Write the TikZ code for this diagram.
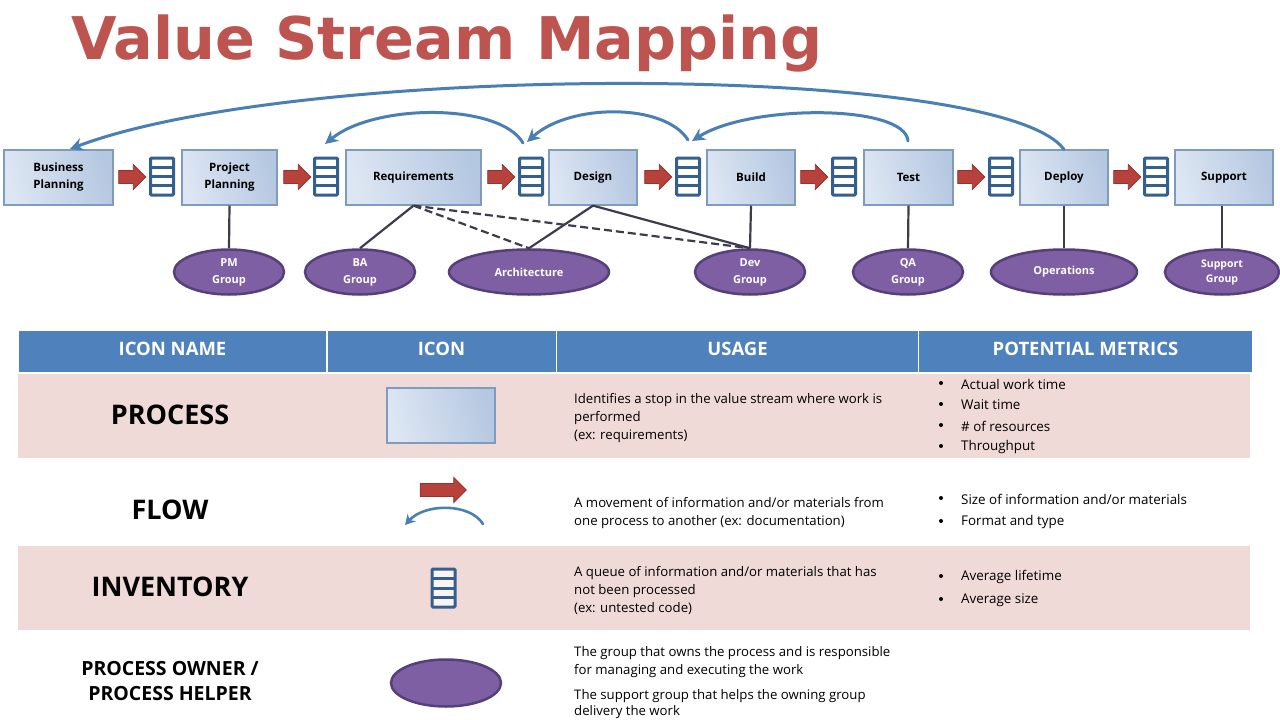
\documentclass[tikz,border=0pt]{standalone}
\usepackage{fontspec}
\setmainfont{Open Sans}
\newfontfamily\titlefont{DejaVu Sans}
\usetikzlibrary{arrows.meta,calc,shapes.geometric,shapes.arrows}
\definecolor{titlered}{HTML}{BE5450}
\definecolor{boxlight}{HTML}{DDE6F3}
\definecolor{boxdark}{HTML}{B5C8E1}
\definecolor{boxline}{HTML}{7F9CBF}
\definecolor{queueblue}{HTML}{34608F}
\definecolor{flowblue}{HTML}{4A7FB5}
\definecolor{arrowred}{HTML}{B8413B}
\definecolor{groupfill}{HTML}{7F5FA3}
\definecolor{groupline}{HTML}{54407A}
\definecolor{linkgrey}{HTML}{3C3C4C}
\definecolor{headblue}{HTML}{4F81BD}
\definecolor{rowpink}{HTML}{EFDAD7}
\tikzset{
  proc/.style={draw=boxline, line width=1.2pt, left color=boxlight, right color=boxdark, shading angle=105,
    minimum height=55pt, inner sep=0pt, align=center, font=\fontsize{11.5}{17}\selectfont\bfseries},
  queue/.style={draw=queueblue, line width=3pt, fill=white, fill opacity=.75, text opacity=1, rounded corners=1pt,
    minimum width=23pt, minimum height=37pt, inner sep=0pt,
    path picture={\foreach \k in {.25,.5,.75}
      \draw[queueblue, line width=3pt] ($(path picture bounding box.north west)!\k!(path picture bounding box.south west)$)
        -- ($(path picture bounding box.north east)!\k!(path picture bounding box.south east)$);}},
  redarrow/.style={single arrow, draw=arrowred!80!black, fill=arrowred, line width=.8pt, inner xsep=0pt, inner ysep=6pt,
    single arrow head extend=6pt, single arrow head indent=0pt, minimum height=27pt, minimum width=24pt},
  group/.style={ellipse, draw=groupline, fill=groupfill, line width=2.5pt, minimum height=45pt, minimum width=110pt,
    inner sep=0pt, align=center, text=white, font=\fontsize{11}{17}\selectfont\bfseries},
  flow/.style={draw=flowblue, line width=3pt, line cap=round, -{Stealth[length=13pt,width=13pt]}},
  link/.style={draw=linkgrey, line width=2.2pt},
  linkdash/.style={link, dashed, dash pattern=on 8pt off 4pt},
  headcell/.style={fill=headblue, minimum height=41pt, inner sep=0pt, text=white, text height=13pt, text depth=5pt,
    font=\fontsize{18.5}{22}\selectfont\bfseries},
  rowname/.style={font=\fontsize{27}{30}\selectfont\bfseries, align=center},
  usage/.style={anchor=north west, inner sep=0pt, align=left, font=\fontsize{13.2}{18}\selectfont},
  metric/.style={anchor=west, inner sep=0pt, font=\fontsize{13.4}{15}\selectfont},
  dot/.style={circle, fill=black, inner sep=0pt, minimum size=4pt}
}
\begin{document}
\begin{tikzpicture}[x=1pt,y=-1pt]
  \useasboundingbox (0,0) rectangle (1280,720);
  \fill[white] (0,0) rectangle (1280,720);

  \node[anchor=west, inner sep=0pt, text=titlered, font=\titlefont\fontsize{58.8}{62}\selectfont\bfseries] (title) at (71,44) {Value Stream Mapping};

  % process row
  \node[proc, minimum width=109pt] (p1) at (58.5,177.5) {Business\\Planning};
  \node[proc, minimum width=95pt] (p2) at (229.5,177.5) {Project\\Planning};
  \node[proc, minimum width=135pt] (p3) at (413.5,177.5) {Requirements};
  \node[proc, minimum width=88pt] (p4) at (593,177.5) {Design};
  \node[proc, minimum width=88pt] (p5) at (751,177.5) {Build};
  \node[proc, minimum width=89pt] (p6) at (908.5,177.5) {Test};
  \node[proc, minimum width=88pt] (p7) at (1064,177.5) {Deploy};
  \node[proc, minimum width=98pt] (p8) at (1224,177.5) {Support};

  \node[queue] (q1) at (162,176.5) {};
  \node[queue] (q2) at (326,176.5) {};
  \node[queue] (q3) at (531,176.5) {};
  \node[queue] (q4) at (688,176.5) {};
  \node[queue] (q5) at (844,176.5) {};
  \node[queue] (q6) at (1001,176.5) {};
  \node[queue] (q7) at (1156,176.5) {};

  \node[redarrow] (a1) at (129,177) {};
  \node[redarrow] (a2) at (294,177) {};
  \node[redarrow] (a3) at (498,177) {};
  \node[redarrow] (a4) at (655,177) {};
  \node[redarrow] (a5) at (811,177) {};
  \node[redarrow] (a6) at (968,177) {};
  \node[redarrow] (a7) at (1124,177) {};

  \node[group] (g1) at (229,272) {PM\\Group};
  \node[group] (g2) at (360,272) {BA\\Group};
  \node[group, minimum width=160pt] (g3) at (529,272) {Architecture};
  \node[group] (g4) at (750,272) {Dev\\Group};
  \node[group] (g5) at (908,272) {QA\\Group};
  \node[group, minimum width=146pt] (g6) at (1064,272) {Operations};
  \node[group, minimum width=114pt, font=\fontsize{10.5}{15}\selectfont\bfseries] (g7) at (1222,272) {Support\\Group};

  \foreach \from/\to in {p2/g1, p3/g2, p4/g3, p4/g4, p5/g4, p6/g5, p7/g6}
    \draw[link] (\from.south) -- (\to.north);
  \draw[link] (p8.south -| g7.north) -- (g7.north);
  \foreach \from/\to in {p3/g3, p3/g4}
    \draw[linkdash] (\from.south) -- (\to.north);

  % feedback arcs
  \coordinate (c1) at (70,149);
  \coordinate (c2) at (325,144);
  \coordinate (c3) at (527,142);
  \coordinate (c4) at (692,141);
  \coordinate (s3) at (523,143);
  \coordinate (s4) at (688,140);
  \coordinate (s6) at (908,141);
  \draw[flow] (p7.north) .. controls (1000,62) and (300,62) .. (c1);
  \draw[flow] (s3) .. controls (500,103) and (375,103) .. (c2);
  \draw[flow] (s4) .. controls (665,103) and (570,103) .. (c3);
  \draw[flow] (s6) .. controls (905,104) and (750,104) .. (c4);

  % table
  \fill[rowpink] (18,374) rectangle (1250,458);
  \fill[rowpink] (18,546) rectangle (1250,630);
  \node[headcell, minimum width=307pt] (h1) at (172.5,351.5) {ICON NAME};
  \node[headcell, minimum width=228pt] (h2) at (441.5,351.5) {ICON};
  \node[headcell, minimum width=361pt] (h3) at (737.5,351.5) {USAGE};
  \node[headcell, minimum width=333pt] (h4) at (1085.5,351.5) {POTENTIAL METRICS};

  \node[rowname] (r1) at (170,415) {PROCESS};
  \node[rowname] (r2) at (170,510) {FLOW};
  \node[rowname] (r3) at (170,587) {INVENTORY};
  \node[rowname, font=\fontsize{19.5}{25}\selectfont\bfseries] (r4) at (170,681) {PROCESS OWNER /\\PROCESS HELPER};

  \node[proc, minimum width=108pt] (i1) at (441,415.5) {};
  \node[redarrow, minimum height=46pt, minimum width=25pt] (i2) at (440,490) {};
  \coordinate (i3a) at (483,524);
  \coordinate (i3b) at (405,525);
  \draw[flow, line width=2.6pt, -{Stealth[length=10pt,width=11pt]}] (i3a) .. controls (470,503) and (425,503) .. (i3b);
  \node[queue, minimum height=38pt] (i4) at (443.5,588) {};
  \node[group, minimum width=110pt, minimum height=47pt] (i5) at (446,683) {};

  \node[usage] (u1) at (574,393) {Identifies a stop in the value stream where work is\\performed\\(ex: requirements)};
  \node[usage] (u2) at (574,497) {A movement of information and/or materials from\\one process to another (ex: documentation)};
  \node[usage] (u3) at (574,566) {A queue of information and/or materials that has\\not been processed\\(ex: untested code)};
  \node[usage] (u4) at (574,646) {The group that owns the process and is responsible\\for managing and executing the work};
  \node[usage, font=\fontsize{13.2}{16.5}\selectfont] (u5) at (574,689) {The support group that helps the owning group\\delivery the work};

  \foreach \y/\t in {384/Actual work time, 405/Wait time, 426/\# of resources, 447/Throughput,
      499/Size of information and\slash or materials, 522/Format and type, 577/Average lifetime, 600/Average size}
    \node[metric] at (961,\y) {\t};
  \foreach \y in {383,404,425,446,498,521,576,599}
    \node[dot] at (941,\y) {};
\end{tikzpicture}
\end{document}
